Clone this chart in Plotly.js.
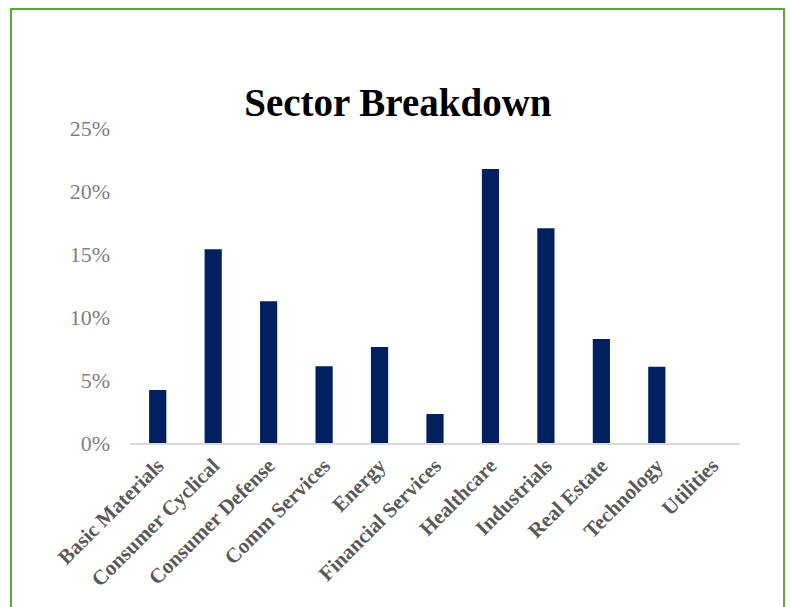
<!DOCTYPE html>
<html>
<head>
<meta charset="utf-8">
<script src="https://cdn.plot.ly/plotly-3.0.1.min.js"></script>
<style>html,body{margin:0;padding:0;background:#fff;}#chart{width:791px;height:607px;}</style>
</head>
<body>
<div id="chart"></div>
<script>
const categories = ["Basic Materials","Consumer Cyclical","Consumer Defense","Comm Services","Energy","Financial Services","Healthcare","Industrials","Real Estate","Technology","Utilities"];
const weights = [0.042, 0.1537, 0.1125, 0.0609, 0.0762, 0.023, 0.2175, 0.1704, 0.0825, 0.0606, 0];
const yTickVals = [0, 0.05, 0.10, 0.15, 0.20, 0.25];
const yTickText = ["0%","5%","10%","15%","20%","25%"];

const trace = {
  type: "bar",
  x: categories,
  y: weights,
  marker: {color: "#002060", line: {width: 0}},
  hoverinfo: "x+y"
};

const layout = {
  width: 791, height: 607,
  margin: {l: 130, r: 51, t: 128, b: 164},
  paper_bgcolor: "#ffffff",
  plot_bgcolor: "#ffffff",
  showlegend: false,
  bargap: 0.69,
  title: {
    text: "<b>Sector Breakdown</b>",
    font: {family: "Liberation Serif, Times New Roman, serif", size: 39, color: "#000000"},
    x: 0.503, xanchor: "center", y: 0.832, yanchor: "middle"
  },
  xaxis: {
    type: "category",
    tickangle: -45,
    showgrid: false,
    showline: true, linecolor: "#d9d9d9", linewidth: 2,
    ticks: "",
    tickfont: {family: "Liberation Serif, Times New Roman, serif", size: 21, color: "#595959", weight: "bold"},
    zeroline: false
  },
  yaxis: {
    range: [0, 0.25],
    tickvals: yTickVals,
    ticktext: yTickText,
    showgrid: false,
    zeroline: false,
    showline: false,
    ticks: "",
    ticklabelstandoff: 19,
    tickfont: {family: "Liberation Serif, Times New Roman, serif", size: 22, color: "#7f7f7f"}
  },
  shapes: [{
    type: "rect", xref: "paper", yref: "paper",
    x0: (11 - 130) / 610, x1: (784 - 130) / 610,
    y0: (443 - 615) / 315, y1: (443 - 9) / 315,
    line: {color: "#5aa83a", width: 2}, fillcolor: "rgba(0,0,0,0)", layer: "above"
  }]
};

Plotly.newPlot("chart", [trace], layout, {displayModeBar: false, staticPlot: true});
</script>
</body>
</html>
